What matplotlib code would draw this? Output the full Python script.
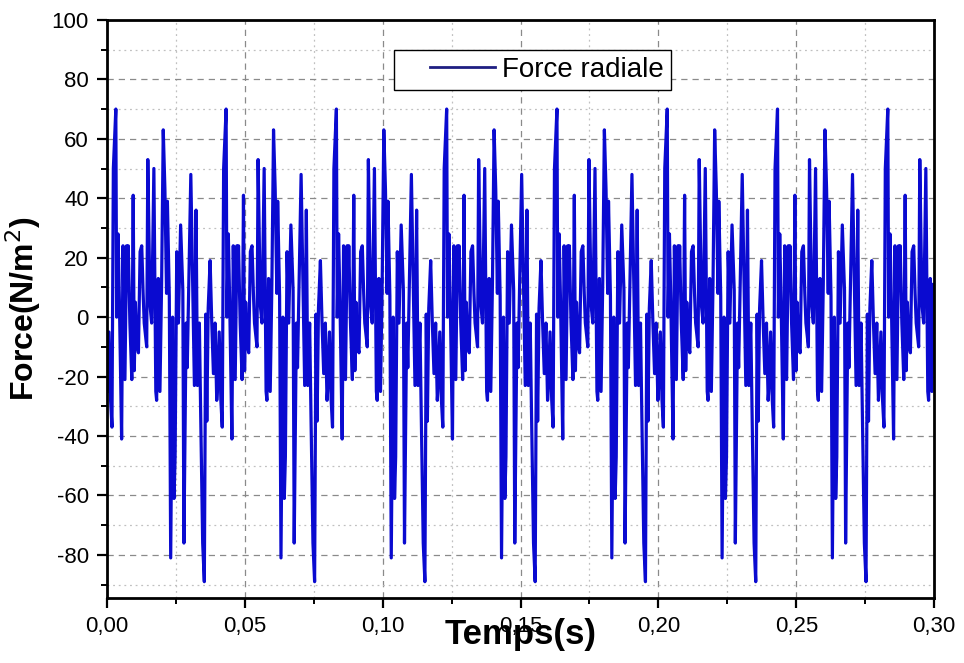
import numpy as np
import matplotlib
matplotlib.use('Agg')
import matplotlib.pyplot as plt
from matplotlib.ticker import MultipleLocator, FuncFormatter
from matplotlib.legend_handler import HandlerLine2D

# one period of the signal (0.04 s)
# time offsets inside the period (ms) and force values (N/m2)
period_ms = [0.0, 0.7, 1.3, 1.8, 2.3, 3.2, 3.5, 4.0, 4.5, 5.3, 5.8,
             6.5, 7.1, 7.4, 7.7, 8.3, 9.0, 9.5, 9.9, 10.3, 10.8, 11.4,
             12.0, 12.6, 13.1, 13.5, 14.4, 14.8, 15.6, 16.2, 17.0, 17.7,
             18.0, 18.6, 19.2, 19.8, 20.4, 21.0, 21.6, 21.9, 22.6, 23.1,
             23.8, 24.3, 24.7, 25.3, 25.9, 26.7, 27.5, 27.9, 28.7, 29.1,
             30.4, 31.1, 31.7, 32.3, 32.8, 33.5, 34.0, 34.7, 35.3, 35.8,
             36.2, 36.7, 37.4, 38.0, 38.6, 39.2, 39.8]
period_f = [-25, -5, -28, -37, 50, 70, 0, 28, 5, -41, 24,
            -21, 24, 10, 24, -2, -21, 41, -18, 5, -9, -12,
            22, 24, 8, -2, -10, 53, 4, -2, 50, -25,
            -28, 13, -25, 11, 63, 43, 8, 39, 7, -81,
            0, -61, -47, 22, -2, 31, 9, -76, -2, -17,
            48, 9, -23, 36, -23, -2, -34, -76, -89, 1,
            -35, 3, 19, -2, -19, -2, -28]
period_s = 0.04
t_end = 0.30

t = []
f = []
k = 0
while k * period_s < t_end:
    for dt, v in zip(period_ms, period_f):
        tt = k * period_s + dt / 1000.0
        if tt <= t_end:
            t.append(tt)
            f.append(v)
    k += 1

fig = plt.figure(figsize=(9.64, 6.63), dpi=100)
ax = fig.add_axes([0.111, 0.098, 0.858, 0.872])

line, = ax.plot(t, f, color='#0a0ad0', lw=2.3, label='Force radiale')

ax.set_xlim(0, 0.30)
ax.set_ylim(-94.5, 100)

ax.xaxis.set_major_locator(MultipleLocator(0.05))
ax.xaxis.set_minor_locator(MultipleLocator(0.025))
ax.yaxis.set_major_locator(MultipleLocator(20))
ax.yaxis.set_minor_locator(MultipleLocator(10))
ax.xaxis.set_major_formatter(FuncFormatter(lambda v, p: ('%.2f' % v).replace('.', ',')))
ax.yaxis.set_major_formatter(FuncFormatter(lambda v, p: '%d' % round(v)))

ax.grid(which='major', color='#8a8a8a', ls=(0, (5, 4)), lw=0.9)
ax.grid(which='minor', color='#c0c0c0', ls=(0, (1.5, 3)), lw=0.9)
ax.set_axisbelow(True)

for s in ax.spines.values():
    s.set_linewidth(2.0)
ax.tick_params(which='major', direction='out', length=7, width=1.6,
               top=False, right=False, pad=6)
ax.tick_params(which='minor', direction='out', length=4, width=1.4,
               top=False, right=False)
for lab in ax.get_yticklabels():
    lab.set_family(['Liberation Sans', 'DejaVu Sans'])
    lab.set_fontsize(16)
for lab in ax.get_xticklabels():
    lab.set_family(['Liberation Sans', 'DejaVu Sans'])
    lab.set_fontsize(16)

ax.set_ylabel('Force(N/m$^2$)', fontsize=23, fontweight='bold',
              family=['Liberation Sans', 'DejaVu Sans'], labelpad=6)
ax.set_xlabel('Temps(s)', fontsize=25, fontweight='bold',
              family=['Liberation Sans', 'DejaVu Sans'],
              labelpad=-14)

leg = ax.legend(handles=[line], loc='upper center', bbox_to_anchor=(0.514, 0.948),
                prop={'family': 'Liberation Sans', 'size': 20},
                frameon=True, fancybox=False, framealpha=1, edgecolor='black',
                handlelength=3.4, borderpad=0.25, handletextpad=0.25,
                borderaxespad=0,
                handler_map={line: HandlerLine2D(xpad=1.05)})
leg.get_frame().set_linewidth(1.0)
leg.get_lines()[0].set_color('#1e1e82')
leg.get_lines()[0].set_linewidth(2.0)

fig.savefig('out.png', dpi=100)
